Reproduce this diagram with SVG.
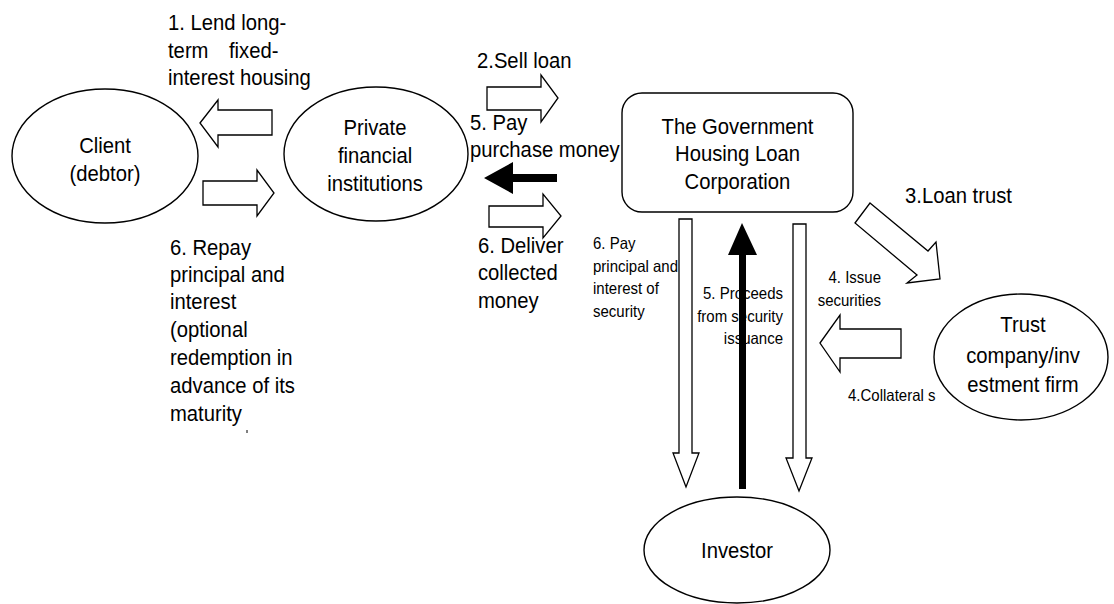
<svg xmlns="http://www.w3.org/2000/svg" width="1114" height="604" viewBox="0 0 1114 604">
<style>
  .node { fill: #fff; stroke: #000; stroke-width: 1.4; }
  .harrow { fill: #fff; stroke: #000; stroke-width: 1.3; stroke-linejoin: miter; }
  .barrow { fill: #000; stroke: none; }
  text { font-family: "Liberation Sans", Arial, sans-serif; fill: #000; }
  .big { font-size: 22.5px; }
  .nt { font-size: 22.5px; text-anchor: middle; }
  .sm { font-size: 16.3px; }
  .end { text-anchor: end; }
</style>
<rect width="1114" height="604" fill="#fff"/>

<g id="client">
  <ellipse class="node" cx="105" cy="156" rx="93" ry="67"/>
  <text class="nt" transform="matrix(0.9 0 0 1 105 153)">Client</text>
  <text class="nt" transform="matrix(0.9 0 0 1 105 181)">(debtor)</text>
</g>

<g id="private">
  <ellipse class="node" cx="376" cy="154" rx="92" ry="67"/>
  <text class="nt" transform="matrix(0.9 0 0 1 375 135)">Private</text>
  <text class="nt" transform="matrix(0.9 0 0 1 375 163)">financial</text>
  <text class="nt" transform="matrix(0.9 0 0 1 375 191)">institutions</text>
</g>

<g id="ghlc">
  <rect class="node" x="622" y="93" width="231" height="119" rx="20" ry="20"/>
  <text class="nt" transform="matrix(0.9 0 0 1 737.5 133.5)">The Government</text>
  <text class="nt" transform="matrix(0.9 0 0 1 737.5 161)">Housing Loan</text>
  <text class="nt" transform="matrix(0.9 0 0 1 737.5 188.5)">Corporation</text>
</g>

<g id="trust">
  <ellipse class="node" cx="1021" cy="357" rx="87" ry="63"/>
  <text class="nt" transform="matrix(0.9 0 0 1 1023 332)">Trust</text>
  <text class="nt" transform="matrix(0.9 0 0 1 1023 363)">company/inv</text>
  <text class="nt" transform="matrix(0.9 0 0 1 1023 392)">estment firm</text>
</g>

<g id="investor">
  <ellipse class="node" cx="737" cy="550" rx="93" ry="53"/>
  <text class="nt" transform="matrix(0.9 0 0 1 737 558)">Investor</text>
</g>

<g id="labels">
  <text class="big" transform="matrix(0.9 0 0 1 168 30)">1. Lend long-</text>
  <text class="big" transform="matrix(0.9 0 0 1 168 58)">term</text>
  <text class="big" transform="matrix(0.9 0 0 1 229 58)">fixed-</text>
  <text class="big" transform="matrix(0.9 0 0 1 168 85)">interest housing</text>

  <text class="big" transform="matrix(0.9 0 0 1 170 255)">6. Repay</text>
  <text class="big" transform="matrix(0.9 0 0 1 170 282)">principal and</text>
  <text class="big" transform="matrix(0.9 0 0 1 170 309)">interest</text>
  <text class="big" transform="matrix(0.9 0 0 1 170 337)">(optional</text>
  <text class="big" transform="matrix(0.9 0 0 1 170 365)">redemption in</text>
  <text class="big" transform="matrix(0.9 0 0 1 170 393)">advance of its</text>
  <text class="big" transform="matrix(0.9 0 0 1 170 421)">maturity</text>
  <line x1="247" y1="430" x2="247" y2="433" stroke="#000" stroke-width="1"/>

  <text class="big" transform="matrix(0.9 0 0 1 477 68)">2.Sell loan</text>
  <text class="big" transform="matrix(0.9 0 0 1 470 130)">5. Pay</text>
  <text class="big" transform="matrix(0.9 0 0 1 470 157)">purchase money</text>
  <text class="big" transform="matrix(0.9 0 0 1 478 253)">6. Deliver</text>
  <text class="big" transform="matrix(0.9 0 0 1 478 280)">collected</text>
  <text class="big" transform="matrix(0.9 0 0 1 478 308)">money</text>

  <text class="sm" transform="matrix(0.92 0 0 1 593 249)">6. Pay</text>
  <text class="sm" transform="matrix(0.92 0 0 1 593 271.5)">principal and</text>
  <text class="sm" transform="matrix(0.92 0 0 1 593 294)">interest of</text>
  <text class="sm" transform="matrix(0.92 0 0 1 593 316.5)">security</text>

  <text class="sm end" transform="matrix(0.92 0 0 1 783 299)">5. Proceeds</text>
  <text class="sm end" transform="matrix(0.92 0 0 1 783 321.5)">from security</text>
  <text class="sm end" transform="matrix(0.92 0 0 1 783 344)">issuance</text>

  <text class="big" transform="matrix(0.9 0 0 1 905 203)">3.Loan trust</text>
  <text class="sm end" transform="matrix(0.92 0 0 1 881 283)">4. Issue</text>
  <text class="sm end" transform="matrix(0.92 0 0 1 881 306)">securities</text>
  <text class="sm" transform="matrix(0.92 0 0 1 848 401)">4.Collateral s</text>
</g>

<g id="connectors">
  <polygon class="harrow" points="200,123 218,100 218,110 272,110 272,135 218,135 218,147"/>
  <polygon class="harrow" points="203,181 257,181 257,170 274,193 257,216 257,205 203,205"/>
  <polygon class="harrow" points="487,87 541,87 541,75 558,98 541,122 541,110 487,110"/>
  <polygon class="barrow" points="484,178 513,162 513,174 557,174 557,182 513,182 513,194"/>
  <polygon class="harrow" points="489,206 543,206 543,194 561,216 543,238 543,227 489,227"/>
  <polygon class="harrow" points="679,219 692,219 692,453 699,453 686,487 673,453 679,453"/>
  <polygon class="harrow" points="793,224 806,224 806,458 812,458 799,491 786,458 793,458"/>
  <polygon class="barrow" points="742,223 757,255 746,255 746,489 739,489 739,255 728,255"/>
  <polygon class="harrow" points="870,203 928,251 936,242 940,279 907,283 917,275 855,223"/>
  <polygon class="harrow" points="820,343 840,315 840,329 901,329 901,358 840,358 840,372"/>
</g>
</svg>
